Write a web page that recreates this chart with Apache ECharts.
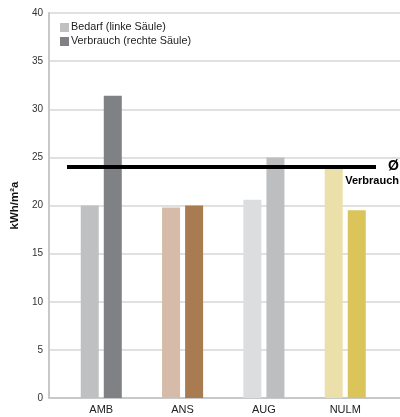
<!DOCTYPE html>
<html>
<head>
<meta charset="utf-8">
<script src="https://cdn.jsdelivr.net/npm/echarts@6/dist/echarts.min.js"></script>
<style>html,body{margin:0;padding:0;background:#fff}#c{width:400px;height:417px}</style>
</head>
<body>
<div id="c"></div>
<script>
const categories = ['AMB', 'ANS', 'AUG', 'NULM'];
const bedarf = [20.0, 19.8, 20.6, 23.8];
const verbrauch = [31.4, 20.0, 25.0, 19.5];
const avgVerbrauch = 24;
const bedarfColors = ['#bfc0c2', '#d5bba8', '#dcdddf', '#ece0aa'];
const verbrauchColors = ['#808184', '#a87c50', '#bdbec0', '#dbc45a'];
const yTicks = [0, 5, 10, 15, 20, 25, 30, 35, 40];

const font = 'Liberation Sans, Arial, sans-serif';
const chart = echarts.init(document.getElementById('c'));
chart.setOption({
  animation: false,
  legend: {
    orient: 'vertical', left: 55, top: 17,
    itemWidth: 9, itemHeight: 9, itemGap: 3,
    icon: 'rect',
    textStyle: { fontFamily: font, fontSize: 10.8, color: '#222', padding: [0, 0, 0, -3] },
    data: ['Bedarf (linke Säule)', 'Verbrauch (rechte Säule)']
  },
  grid: [
    { left: 49, right: 0, top: 13, bottom: 19 },
    { left: 60.6, width: 325.3, top: 13, bottom: 19 },
    { left: 67, width: 309, top: 13, bottom: 19 }
  ],
  xAxis: [
    { gridIndex: 0, type: 'category', data: categories, show: true,
      axisLine: { lineStyle: { color: '#c8c8c8', width: 2 } },
      axisTick: { show: false }, axisLabel: { show: false } },
    { gridIndex: 1, type: 'category', data: categories,
      axisLine: { show: false }, axisTick: { show: false },
      axisLabel: { fontFamily: font, fontSize: 11, color: '#222', margin: 6 } },
    { gridIndex: 2, type: 'value', min: 0, max: 1, show: false }
  ],
  yAxis: [
    { gridIndex: 0, type: 'value', min: yTicks[0], max: yTicks[yTicks.length - 1], interval: 5,
      name: 'kWh/m²a', nameLocation: 'middle', nameGap: 28,
      nameTextStyle: { fontFamily: font, fontSize: 11.5, fontWeight: 'bold', color: '#111' },
      axisLine: { show: true, lineStyle: { color: '#c8c8c8', width: 2 } },
      axisTick: { show: false },
      axisLabel: { fontFamily: font, fontSize: 10, color: '#333', margin: 6 },
      splitLine: { lineStyle: { color: '#d6d6d6', width: 1.5 } } },
    { gridIndex: 1, type: 'value', min: 0, max: 40, show: false },
    { gridIndex: 2, type: 'value', min: 0, max: 40, show: false }
  ],
  series: [
    { name: 'Bedarf (linke Säule)', type: 'bar', xAxisIndex: 1, yAxisIndex: 1,
      barWidth: 18, barGap: '28%',
      itemStyle: { color: '#bfc0c2' },
      data: bedarf.map((v, i) => ({ value: v, itemStyle: { color: bedarfColors[i] } })) },
    { name: 'Verbrauch (rechte Säule)', type: 'bar', xAxisIndex: 1, yAxisIndex: 1,
      barWidth: 18, barGap: '28%',
      itemStyle: { color: '#808184' },
      data: verbrauch.map((v, i) => ({ value: v, itemStyle: { color: verbrauchColors[i] } })) },
    { name: 'avg', type: 'line', xAxisIndex: 2, yAxisIndex: 2, data: [],
      markLine: {
        silent: true, symbol: 'none',
        lineStyle: { color: '#000', width: 4, type: 'solid' },
        label: {
          position: 'end', distance: 23, align: 'right', verticalAlign: 'top',
          padding: [-8, 0, 0, 0],
          formatter: '{a|Ø}\n{b|Verbrauch}',
          rich: {
            a: { fontFamily: font, fontSize: 14, fontWeight: 'bold', color: '#000', lineHeight: 15, align: 'right' },
            b: { fontFamily: font, fontSize: 11, fontWeight: 'bold', color: '#000', lineHeight: 14, align: 'right' }
          }
        },
        data: [{ yAxis: avgVerbrauch }]
      } }
  ]
});
</script>
</body>
</html>
